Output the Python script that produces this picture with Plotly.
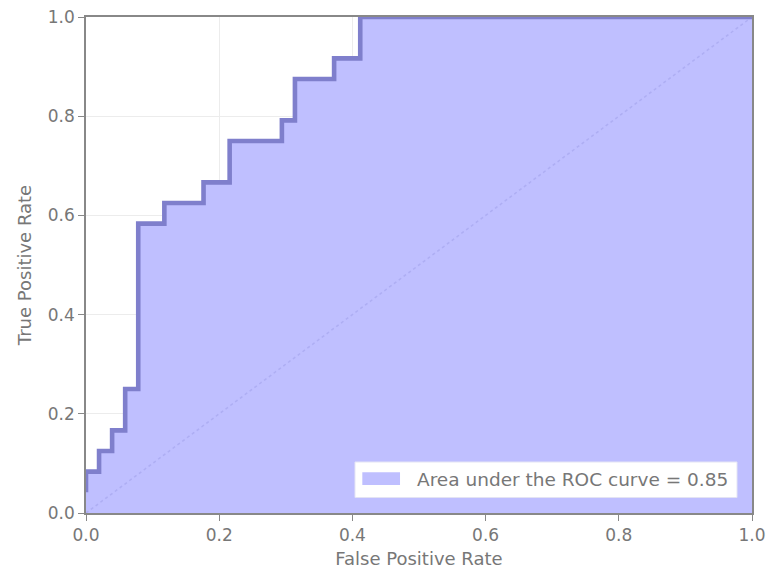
import plotly.graph_objects as go

# ROC curve points (FPR steps in units of 1/51, TPR in units of 1/24)
fpr = [0, 0, 1/51, 1/51, 2/51, 2/51, 3/51, 3/51, 4/51, 4/51, 6/51, 6/51, 9/51, 9/51,
       11/51, 11/51, 15/51, 15/51, 16/51, 16/51, 19/51, 19/51, 21/51, 21/51, 1.0]
tpr = [1/24, 2/24, 2/24, 3/24, 3/24, 4/24, 4/24, 6/24, 6/24, 14/24, 14/24, 15/24, 15/24, 16/24,
       16/24, 18/24, 18/24, 19/24, 19/24, 21/24, 21/24, 22/24, 22/24, 1.0, 1.0]
diag = [0, 1]
auc_label = "Area under the ROC curve = 0.85"
ticks = [0.0, 0.2, 0.4, 0.6, 0.8, 1.0]
tick_text = ["0.0", "0.2", "0.4", "0.6", "0.8", "1.0"]

FILL = "rgb(191,191,255)"
LINE = "rgb(127,127,204)"
GREY = "#777777"
FONT = "DejaVu Sans"

fig = go.Figure()
fig.add_trace(go.Scatter(x=[0] + fpr, y=[0] + tpr, mode="none", fill="tozeroy",
                         fillcolor=FILL, showlegend=False, hoverinfo="skip"))
fig.add_trace(go.Scatter(x=diag, y=diag, mode="lines",
                         line=dict(color="rgba(172,172,242,0.9)", width=1.5, dash="dot"),
                         showlegend=False, hoverinfo="skip"))
fig.add_trace(go.Scatter(x=fpr, y=tpr, mode="lines", line=dict(color=LINE, width=4.6),
                         showlegend=False, cliponaxis=False))

axis_common = dict(
    range=[0, 1], tickvals=ticks, ticktext=tick_text, showgrid=True, gridcolor="#ececec",
    gridwidth=1, zeroline=False, showline=True, linecolor="#888888", linewidth=1.5,
    mirror=True, ticks="outside", ticklen=6, tickcolor="#888888", automargin=False,
    tickfont=dict(family=FONT, size=17, color=GREY),
)
fig.update_xaxes(**axis_common, title=dict(text="False Positive Rate", standoff=8,
                                           font=dict(family=FONT, size=18, color=GREY)))
fig.update_yaxes(**axis_common, title=dict(text="True Positive Rate", standoff=12,
                                           font=dict(family=FONT, size=18, color=GREY)))

# legend drawn as box + patch + text (matplotlib style)
fig.add_shape(type="rect", xref="paper", yref="paper", x0=0.4039, x1=0.9775, y0=0.0313, y1=0.1028,
              fillcolor="white", line=dict(color="#e4e4f4", width=1), layer="above")
fig.add_shape(type="rect", xref="paper", yref="paper", x0=0.4149, x1=0.4715, y0=0.0565, y1=0.0821,
              fillcolor=FILL, line=dict(width=0), layer="above")
fig.add_annotation(xref="paper", yref="paper", x=0.4935, y=0.0685, xanchor="left",
                   yanchor="middle", text=auc_label, showarrow=False,
                   font=dict(family=FONT, size=18.5, color=GREY))

fig.update_layout(
    width=769, height=571,
    margin=dict(l=86, r=17, t=17, b=58),
    plot_bgcolor="white", paper_bgcolor="white",
    font=dict(family=FONT, color=GREY),
    showlegend=False,
)
fig.write_html("out.html")
